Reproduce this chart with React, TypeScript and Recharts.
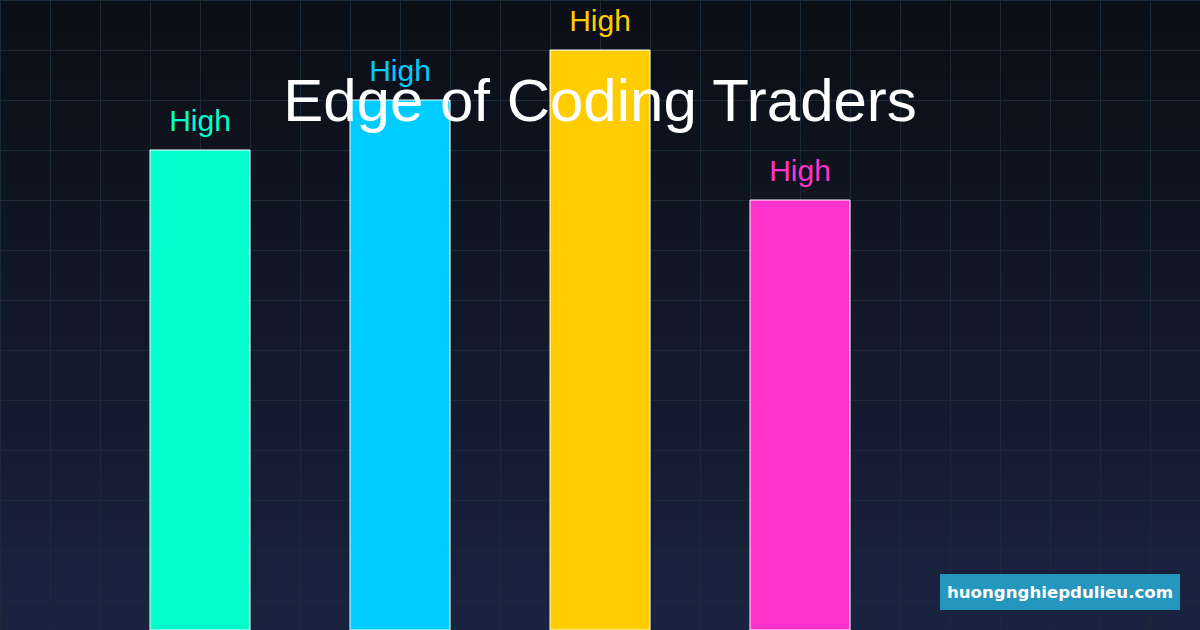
import React from 'react';
import { BarChart, Bar, XAxis, YAxis, CartesianGrid, LabelList, Cell } from 'recharts';

const categories = ['Speed', 'Discipline', 'Backtesting', 'Automation'];
const scores = [4.8, 5.3, 5.8, 4.3];
const levelLabels = ['High', 'High', 'High', 'High'];
const barColors = ['#00ffcc', '#00ccff', '#ffcc00', '#ff33cc'];

const chartData = categories.map((name, i) => ({
    name,
    score: scores[i],
    level: levelLabels[i],
    color: barColors[i],
}));

const W = 1200;
const H = 630;
const GRID_STEP = 50;

// grid lines every 50px, nudged half a pixel so they stay 1px sharp
const steps = (len: number) => {
    const out: number[] = [];
    for (let p = 0; p <= len; p += GRID_STEP) out.push(p + 0.5);
    return out;
};

const LevelLabel = (props: any) => {
    const { x, y, width, index } = props;
    const entry = chartData[index];
    return (
        <text
            x={x + width / 2}
            y={y - 19}
            textAnchor="middle"
            fill={entry.color}
            fontSize={30}
            fontFamily="'Liberation Sans', Arial, sans-serif"
        >
            {entry.level}
        </text>
    );
};

const App: React.FC = () => {
    return (
        <div
            style={{
                position: 'absolute',
                top: 0,
                left: 0,
                width: W,
                height: H,
                overflow: 'hidden',
                background: 'linear-gradient(to bottom, #0b0e15 0%, #121829 50%, #1a2340 100%)',
            }}
        >
            <BarChart width={W} height={H} data={chartData} margin={{ top: 0, right: 0, bottom: 0, left: 0 }}>
                <CartesianGrid
                    stroke="#1b2a3a"
                    strokeWidth={1}
                    horizontalCoordinatesGenerator={() => steps(H)}
                    verticalCoordinatesGenerator={() => steps(W)}
                />
                <XAxis dataKey="name" hide padding={{ left: 100, right: 300 }} />
                <YAxis hide domain={[0, 6.3]} />
                <Bar dataKey="score" barSize={100} stroke="#ffffff" strokeWidth={1} isAnimationActive={false}>
                    {chartData.map((d, i) => (
                        <Cell key={`cell-${i}`} fill={d.color} />
                    ))}
                    <LabelList dataKey="level" content={<LevelLabel />} />
                </Bar>
            </BarChart>
            <svg width={W} height={H} style={{ position: 'absolute', top: 0, left: 0 }}>
                <text
                    x={600}
                    y={121}
                    textAnchor="middle"
                    fill="#ffffff"
                    fontSize={60}
                    fontFamily="'Liberation Sans', Arial, sans-serif"
                >
                    Edge of Coding Traders
                </text>
                <rect x={940} y={574} width={240} height={36} fill="#2596be" />
                <text
                    x={1060}
                    y={598}
                    textAnchor="middle"
                    fill="#ffffff"
                    fontSize={16.6}
                    fontWeight="bold"
                    fontFamily="'DejaVu Sans', sans-serif"
                >
                    huongnghiepdulieu.com
                </text>
            </svg>
        </div>
    );
};

export default App;
